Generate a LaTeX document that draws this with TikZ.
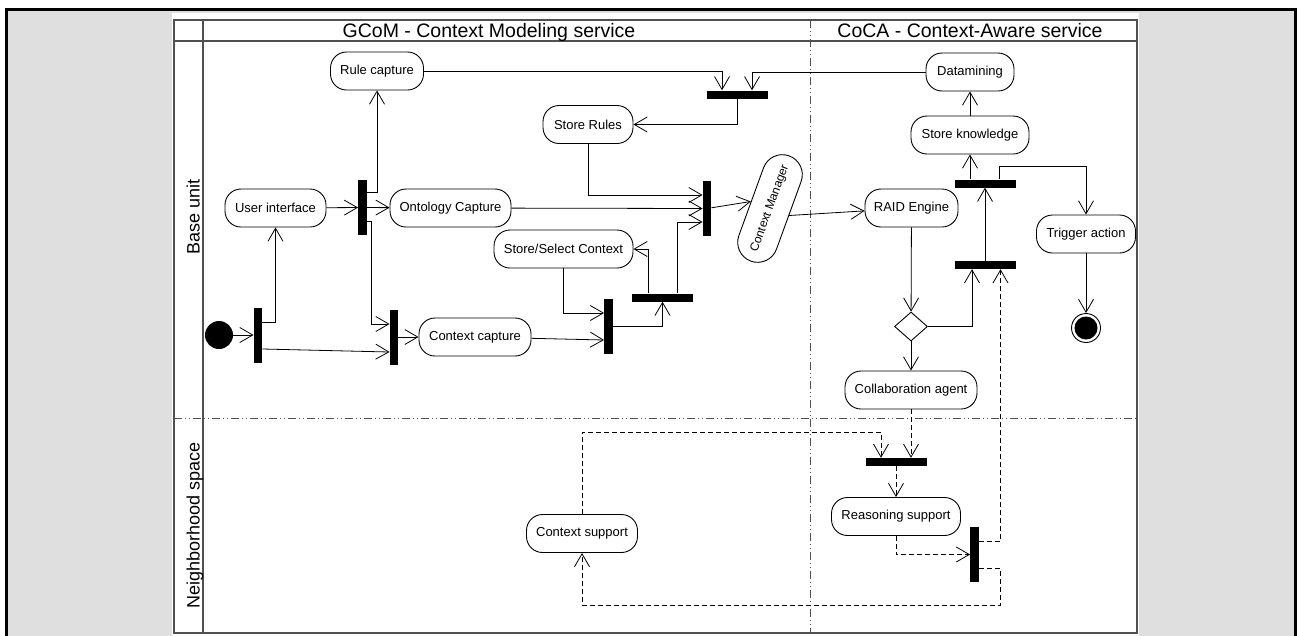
\documentclass[tikz,border=0pt]{standalone}
\usepackage{fontspec}
\setmainfont{Liberation Sans}
\usepackage{xcolor}
\usetikzlibrary{arrows.meta,shapes.geometric}
\definecolor{panelgray}{HTML}{DFDFDF}
\definecolor{framegray}{HTML}{505050}

\begin{document}
\begin{tikzpicture}[x=1pt,y=-1pt,
  action/.style={draw, rectangle, rounded corners=16pt, minimum height=38pt, inner sep=0pt, line width=0.9pt, font=\fontsize{13}{15}\selectfont},
  hbar/.style={fill=black, minimum width=61pt, minimum height=8pt, inner sep=0pt},
  vbar/.style={fill=black, minimum width=8.5pt, minimum height=55pt, inner sep=0pt},
  flow/.style={-{Straight Barb[length=13pt,width=15pt]}, line width=0.8pt},
  dflow/.style={flow, dash pattern=on 5pt off 3pt},
  lanesep/.style={framegray, line width=1pt, dash pattern=on 8pt off 3pt on 1pt off 3pt on 1pt off 3pt}]

\useasboundingbox (0,0) rectangle (1297,635);

% Gray page behind the diagram
\fill[panelgray] (6,9) rectangle (1295,645);
\draw[line width=3pt] (6,9) rectangle (1295,645);
\fill[white] (172,13) rectangle (1139,645);

% Swimlane frame
\draw[framegray, line width=1.2pt] (174,20) rectangle (1137,633);
\draw[framegray, line width=1.2pt] (174,41) -- (1137,41);
\draw[framegray, line width=1.2pt] (203,20) -- (203,633);
\draw[lanesep] (174,418) -- (1137,418);
\draw[lanesep] (810,20) -- (810,633);

% Lane headers
\node[anchor=base, font=\fontsize{19.5}{22}\selectfont] (gcom) at (489,37.5) {GCoM - Context Modeling service};
\node[anchor=base, font=\fontsize{19.5}{22}\selectfont] (coca) at (970,37.5) {CoCA - Context-Aware service};
\node[anchor=base, rotate=90, font=\fontsize{18}{20}\selectfont] (base) at (199.5,217) {Base unit};
\node[anchor=base, rotate=90, font=\fontsize{18}{20}\selectfont] (neigh) at (199.5,525) {Neighborhood space};

% Activities
\node[action, minimum width=93pt] (rule) at (377,71) {Rule capture};
\node[action, minimum width=101pt] (ui) at (275.5,208) {User interface};
\node[action, minimum width=121pt] (oc) at (450.5,208) {Ontology Capture};
\node[action, minimum width=139pt] (ssc) at (563.5,249) {Store/Select Context};
\node[action, minimum width=112pt] (cc) at (475,337) {Context capture};
\node[action, minimum width=90pt] (sr) at (588,124.5) {Store Rules};
\node[action, minimum width=112pt, minimum height=40pt, rounded corners=20pt, rotate=70, font=\fontsize{12}{14}\selectfont] (cm) at (770,208.5) {Context Manager};
\node[action, minimum width=93pt] (raid) at (911.5,208) {RAID Engine};
\node[action, minimum width=88pt] (dm) at (970,72) {Datamining};
\node[action, minimum width=118pt] (sk) at (970,135) {Store knowledge};
\node[action, minimum width=99pt] (ta) at (1086,234) {Trigger action};
\node[action, minimum width=132pt] (ca) at (911,390) {Collaboration agent};
\node[action, minimum width=111pt] (cs) at (582,533.5) {Context support};
\node[action, minimum width=129pt] (rs) at (896,516.5) {Reasoning support};

% Start, end and decision
\node[circle, fill=black, minimum size=28pt, inner sep=0pt] (init) at (219,335) {};
\node[circle, draw, line width=0.9pt, minimum size=29pt, inner sep=0pt] (final) at (1086,328) {};
\node[circle, fill=black, minimum size=23pt, inner sep=0pt] (finaldot) at (final) {};
\node[diamond, draw, line width=0.9pt, minimum width=33pt, minimum height=29pt, inner sep=0pt] (dec) at (911,326.5) {};

% Fork and join bars
\node[vbar] (bar1) at (258,335) {};
\node[vbar] (bar2) at (362.5,207.5) {};
\node[vbar] (bar3) at (394,337) {};
\node[hbar] (bar4) at (737.5,94.5) {};
\node[vbar] (bar5) at (707,208.5) {};
\node[vbar] (bar6) at (608.5,326.5) {};
\node[hbar] (bar7) at (662.5,297.5) {};
\node[hbar] (bar8) at (985,183.5) {};
\node[hbar] (bar9) at (985,265) {};
\node[hbar] (bar10) at (896,462) {};
\node[vbar] (bar11) at (974.5,554.5) {};

% Control flow in the base unit
\draw[flow] (init) -- (bar1);
\draw[flow] ([yshift=13pt]bar1.east) -| (ui);
\draw[flow] ([yshift=-14pt]bar1.east) -- ([yshift=-15pt]bar3.west);
\draw[flow] (ui) -- (bar2);
\draw[flow] (bar2) -- (oc);
\draw[flow] ([yshift=15pt]bar2.east) -| (rule);
\draw[flow] ([yshift=-13.5pt]bar2.east) -- ++(4.5,0) |- ([yshift=13pt]bar3.west);
\draw[flow] (bar3) -- (cc);
\draw[flow] (rule) -| ([xshift=-15.5pt]bar4.north);
\draw[flow] (dm) -| ([xshift=14.5pt]bar4.north);
\draw[flow] (bar4) |- (sr);
\draw[flow] (sr) |- ([yshift=13.5pt]bar5.west);
\draw[flow] (oc) -- (bar5);
\draw[flow] ([xshift=14.5pt]bar7.north) |- ([yshift=-13.5pt]bar5.west);
\draw[flow] ([xshift=-14.5pt]bar7.north) |- (ssc);
\draw[flow] (ssc) |- ([yshift=13.5pt]bar6.west);
\draw[flow] (cc) -- ([yshift=-13.5pt]bar6.west);
\draw[flow] (bar6) -| (bar7);
\draw[flow] (bar5) -- (cm.north);
\draw[flow] (cm.south) -- (raid);
\draw[flow] (raid) -- (dec);
\draw[flow] (dec) -| ([xshift=-13pt]bar9.south);
\draw[flow] (dec) -- (ca);
\draw[flow] (bar9) -- (bar8);
\draw[flow] (sk |- bar8.north) -- (sk);
\draw[flow] (sk) -- (dm);
\draw[flow] ([xshift=14pt]bar8.north) -- ++(0,-13) -| (ta);
\draw[flow] (ta) -- (final);

% Dashed flow through the neighborhood space
\draw[dflow] (ca) -- (ca |- bar10.north);
\draw[dflow] (cs.north) -- ++(0,-82) -| ([xshift=-15pt]bar10.north);
\draw[dflow] (bar10) -- (rs);
\draw[dflow] (rs) |- (bar11);
\draw[dflow] ([yshift=13.5pt]bar11.east) -| ([xshift=15.5pt]bar9.south);
\draw[dflow] ([yshift=-13.5pt]bar11.east) -- ++(21.5,0) -- ++(0,37) -| (cs);

\end{tikzpicture}
\end{document}
